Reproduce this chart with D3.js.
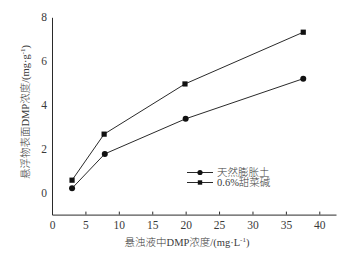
<!DOCTYPE html>
<html>
<head>
<meta charset="utf-8">
<script src="https://cdn.jsdelivr.net/npm/d3@7"></script>
<style>
body { margin: 0; background: #fff; }
text { font-family: "Liberation Serif", "Noto Sans CJK SC", serif; fill: #3a3a3a; font-weight: 300; }
</style>
</head>
<body>
<script>
var xConc = [3.0, 7.9, 20.0, 37.6];
var bentonite = [0.2, 1.77, 3.37, 5.2];
var xConc2 = [3.0, 7.8, 19.9, 37.6];
var betaine = [0.57, 2.67, 4.96, 7.32];
var seriesNames = ["天然膨胀土", "0.6%甜菜碱"];
var xTicks = [0, 5, 10, 15, 20, 25, 30, 35, 40];
var yTicks = [0, 2, 4, 6, 8];

var width = 350, height = 254;
var svg = d3.select('body').append('svg')
    .attr('width', width)
    .attr('height', height);

var x = d3.scaleLinear().domain([0, 42.5]).range([52, 336]);
var y = d3.scaleLinear().domain([-1, 8]).range([214.6, 17.3]);
var ink = '#2a2a2a';

// axes
var xAxis = svg.append('g')
    .attr('transform', 'translate(0,' + y(-1) + ')')
    .call(d3.axisBottom(x).tickValues(xTicks).tickSizeInner(-3).tickSizeOuter(0).tickPadding(6));
var yAxis = svg.append('g')
    .attr('transform', 'translate(' + x(0) + ',0)')
    .call(d3.axisLeft(y).tickValues(yTicks).tickSizeInner(0).tickSizeOuter(0).tickPadding(5));
[xAxis, yAxis].forEach(function(a) {
    a.selectAll('path, line').attr('stroke', ink).attr('stroke-width', 1);
    a.selectAll('text').attr('font-size', 11.5).style('fill', '#3a3a3a')
        .style('font-family', '"Liberation Serif", serif');
});

// lines
var line = d3.line().x(function(d) { return x(d[0]); }).y(function(d) { return y(d[1]); });
var s1 = xConc.map(function(v, i) { return [v, bentonite[i]]; });
var s2 = xConc2.map(function(v, i) { return [v, betaine[i]]; });

svg.append('path').attr('d', line(s1)).attr('fill', 'none').attr('stroke', ink).attr('stroke-width', 1);
svg.append('path').attr('d', line(s2)).attr('fill', 'none').attr('stroke', ink).attr('stroke-width', 1);

svg.selectAll('circle.pt').data(s1).enter().append('circle')
    .attr('class', 'pt')
    .attr('cx', function(d) { return x(d[0]); })
    .attr('cy', function(d) { return y(d[1]); })
    .attr('r', 3).attr('fill', '#111');
svg.selectAll('rect.pt').data(s2).enter().append('rect')
    .attr('class', 'pt')
    .attr('x', function(d) { return x(d[0]) - 2.6; })
    .attr('y', function(d) { return y(d[1]) - 2.6; })
    .attr('width', 5.2).attr('height', 5.2).attr('fill', '#111');

// legend
var leg = svg.append('g');
[0, 1].forEach(function(i) {
    var ly = 172.5 + i * 10;
    leg.append('line').attr('x1', 187).attr('x2', 213).attr('y1', ly).attr('y2', ly)
        .attr('stroke', ink).attr('stroke-width', 1);
    if (i === 0) leg.append('circle').attr('cx', 200).attr('cy', ly).attr('r', 2.6).attr('fill', '#111');
    else leg.append('rect').attr('x', 197.8).attr('y', ly - 2.2).attr('width', 4.4).attr('height', 4.4).attr('fill', '#111');
    leg.append('text').attr('x', 217).attr('y', ly + 3.8).attr('font-size', 10.5).text(seriesNames[i]);
});

// axis titles
svg.append('text').attr('x', 187).attr('y', 246).attr('text-anchor', 'middle')
    .attr('font-size', 10.5)
    .html('悬浊液中DMP浓度/(mg·L<tspan dy="-4" font-size="7">-1</tspan><tspan dy="4">)</tspan>');
svg.append('text').attr('transform', 'translate(29,112) rotate(-90)').attr('text-anchor', 'middle')
    .attr('font-size', 10.5)
    .html('悬浮物表面DMP浓度/(mg·g<tspan dy="-4" font-size="7">-1</tspan><tspan dy="4">)</tspan>');
</script>
</body>
</html>
